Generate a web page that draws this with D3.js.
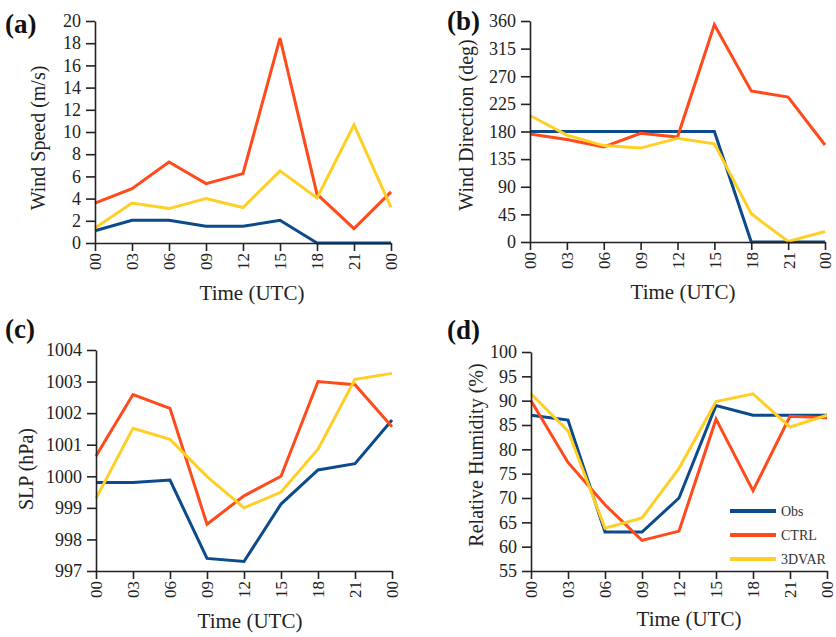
<!DOCTYPE html>
<html><head><meta charset="utf-8">
<script src="https://cdn.jsdelivr.net/npm/d3@7"></script>
<style>
body{margin:0;background:#fff;}
svg{display:block;font-family:"Liberation Serif","Times New Roman",serif;}
</style></head>
<body><svg id="c" width="836" height="637"></svg>
<script>
const times = ["00","03","06","09","12","15","18","21","00"];
const seriesNames = ["Obs","CTRL","3DVAR"];
const colors = {"Obs":"#0b4a8b","CTRL":"#ff4a1c","3DVAR":"#ffcf26"};

// (a) Wind speed (m/s)
const wsObs   = [1.1, 2.05, 2.05, 1.5, 1.5, 2.05, 0, 0, 0];
const wsCtrl  = [3.6, 4.9, 7.3, 5.35, 6.25, 18.45, 4.4, 1.3, 4.6];
const ws3dvar = [1.35, 3.6, 3.1, 4.0, 3.2, 6.5, 4.05, 10.65, 3.2];
const wsTicks = [0,2,4,6,8,10,12,14,16,18,20];

// (b) Wind direction (deg)
const wdObs   = [180, 180, 180, 180, 180, 180, 0, 0, 0];
const wdCtrl  = [176, 167, 155, 177, 171, 354, 246, 236, 158];
const wd3dvar = [206, 174, 157, 153, 169, 160, 46, 1, 17];
const wdTicks = [0,45,90,135,180,225,270,315,360];

// (c) SLP (hPa)
const slpObs   = [999.8, 999.8, 999.88, 997.4, 997.3, 999.12, 1000.2, 1000.4, 1001.78];
const slpCtrl  = [1000.64, 1002.59, 1002.15, 998.48, 999.38, 1000.0, 1003.0, 1002.9, 1001.57];
const slp3dvar = [999.3, 1001.52, 1001.17, 999.99, 999.0, 999.5, 1000.86, 1003.07, 1003.26];
const slpTicks = [997,998,999,1000,1001,1002,1003,1004];

// (d) Relative humidity (%)
const rhObs   = [87, 86, 63, 63, 70, 89, 87, 87, 87];
const rhCtrl  = [90, 77.3, 68.6, 61.3, 63.2, 86.2, 71.5, 86.8, 86.5];
const rh3dvar = [91.4, 83.8, 63.8, 65.9, 76.1, 89.8, 91.4, 84.6, 87];
const rhTicks = [55,60,65,70,75,80,85,90,95,100];

const panels = [
  {label:"(a)", lx:5, ly:33, ytitle:"Wind Speed (m/s)", ytx:38, yty:138,
   x0:95, x1:391, yt:21, yb:243, dom:[0,20], ticks:wsTicks,
   data:{"Obs":wsObs,"CTRL":wsCtrl,"3DVAR":ws3dvar}, xtx:252, xty:300},
  {label:"(b)", lx:447, ly:30, ytitle:"Wind Direction (deg)", ytx:466, yty:125,
   x0:530, x1:825, yt:21, yb:242, dom:[0,360], ticks:wdTicks,
   data:{"Obs":wdObs,"CTRL":wdCtrl,"3DVAR":wd3dvar}, xtx:683, xty:299},
  {label:"(c)", lx:5, ly:338, ytitle:"SLP (hPa)", ytx:26, yty:469,
   x0:96, x1:392, yt:350, yb:571, dom:[997,1004], ticks:slpTicks,
   data:{"Obs":slpObs,"CTRL":slpCtrl,"3DVAR":slp3dvar}, xtx:250, xty:628},
  {label:"(d)", lx:447, ly:339, ytitle:"Relative Humidity (%)", ytx:476, yty:455,
   x0:531, x1:827, yt:352, yb:571, dom:[55,100], ticks:rhTicks,
   data:{"Obs":rhObs,"CTRL":rhCtrl,"3DVAR":rh3dvar}, xtx:689, xty:626, legend:true}
];

const svg = d3.select("#c");

panels.forEach(p => {
  const g = svg.append("g");
  const x = d3.scalePoint().domain(d3.range(times.length)).range([p.x0, p.x1]);
  const y = d3.scaleLinear().domain(p.dom).range([p.yb, p.yt]);

  const line = d3.line().x((d,i)=>x(i)).y(d=>y(d));
  ["Obs","CTRL","3DVAR"].forEach(name => {
    g.append("path").datum(p.data[name])
      .attr("d", line).attr("fill","none")
      .attr("stroke", colors[name]).attr("stroke-width", 3)
      .attr("stroke-linejoin","miter");
  });

  const ya = g.append("g").attr("transform",`translate(${p.x0},0)`)
    .call(d3.axisLeft(y).tickValues(p.ticks).tickSize(9).tickSizeOuter(0).tickPadding(5).tickFormat(d3.format("d")));
  ya.selectAll("text").attr("font-size",18).attr("fill","#222")
    .attr("font-family","Liberation Serif, serif");
  ya.selectAll("line,path").attr("stroke","#222").attr("stroke-width",1.6);

  const xa = g.append("g").attr("transform",`translate(0,${p.yb})`)
    .call(d3.axisBottom(x).tickSize(8).tickSizeOuter(0).tickFormat(i=>times[i]));
  xa.selectAll("text").attr("font-size",17).attr("fill","#222")
    .attr("font-family","Liberation Serif, serif")
    .attr("transform","rotate(-90)").attr("text-anchor","end")
    .attr("x",-10).attr("y",0).attr("dy","0.35em");
  xa.selectAll("line,path").attr("stroke","#222").attr("stroke-width",1.6);

  g.append("text").attr("x",p.lx).attr("y",p.ly).text(p.label)
    .attr("font-size",27).attr("font-weight","bold").attr("fill","#111");
  g.append("text").attr("transform",`translate(${p.ytx},${p.yty}) rotate(-90)`)
    .attr("text-anchor","middle").attr("dy","0.35em").attr("font-size",20).attr("fill","#222")
    .text(p.ytitle);
  g.append("text").attr("x",p.xtx).attr("y",p.xty).attr("text-anchor","middle")
    .attr("font-size",21).attr("fill","#222").text("Time (UTC)");

  if (p.legend) {
    const lg = g.append("g");
    const ly = d3.scalePoint().domain(seriesNames).range([511, 559]);
    seriesNames.forEach(name => {
      lg.append("line").attr("x1",730).attr("x2",776).attr("y1",ly(name)).attr("y2",ly(name))
        .attr("stroke",colors[name]).attr("stroke-width",4);
      lg.append("text").attr("x",781).attr("y",ly(name)).attr("dy","0.35em")
        .attr("font-size",14).attr("fill","#333").text(name);
    });
  }
});
</script>
</body></html>
